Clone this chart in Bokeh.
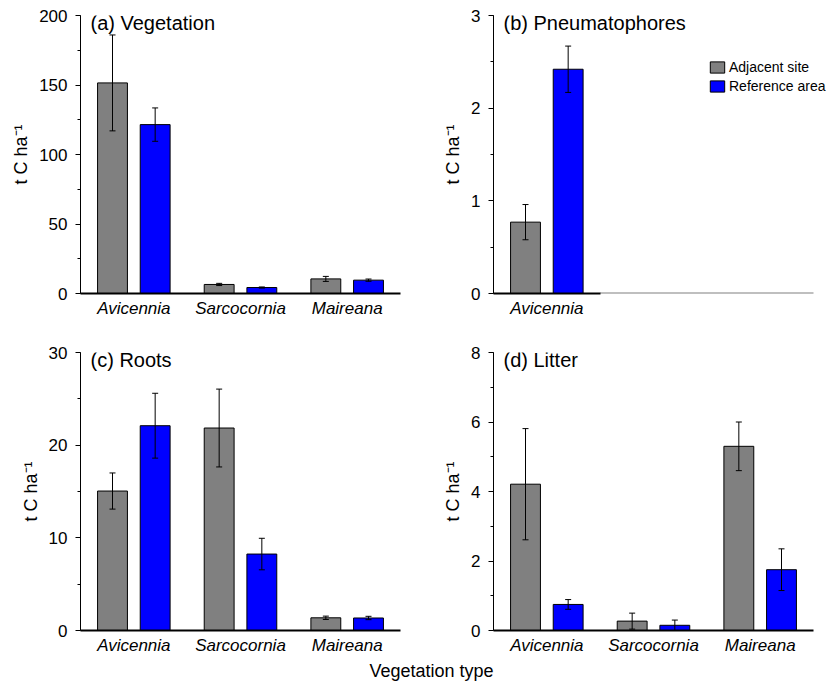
from bokeh.plotting import figure
from bokeh.models import (Range1d, FixedTicker, SingleIntervalTicker, ColumnDataSource,
                          Whisker, TeeHead, Label, Legend, LegendItem)
from bokeh.layouts import column, row
from bokeh.embed import file_html
from bokeh.resources import INLINE

# ---------------- data ----------------
categories = ["Avicennia", "Sarcocornia", "Maireana"]
pneu_categories = ["Avicennia"]
series = ["Adjacent site", "Reference area"]

veg_adj = [151.5, 6.5, 10.5]
veg_adj_err = [34.5, 0.8, 1.8]
veg_ref = [121.5, 4.3, 9.6]
veg_ref_err = [12.0, 0.4, 0.8]

pneu_adj = [0.77]
pneu_adj_err = [0.19]
pneu_ref = [2.42]
pneu_ref_err = [0.25]

roots_adj = [15.05, 21.85, 1.37]
roots_adj_err = [1.95, 4.2, 0.18]
roots_ref = [22.1, 8.25, 1.35]
roots_ref_err = [3.5, 1.7, 0.18]

litter_adj = [4.21, 0.27, 5.3]
litter_adj_err = [1.6, 0.23, 0.7]
litter_ref = [0.75, 0.15, 1.75]
litter_ref_err = [0.14, 0.15, 0.6]

titles = ["(a) Vegetation", "(b) Pneumatophores", "(c) Roots", "(d) Litter"]
y_label = "t C ha\u207b\u00b9"
x_title = "Vegetation type"

# ---------------- style ----------------
FONT = "Liberation Sans"
GRAY = "#808080"
BLUE = "#0000FF"
FW, FH = 320, 278
N_SLOTS = 3  # category slots per panel axis


def panel(title, cats, adj, adj_err, ref, ref_err, ymax, step,
          left, right, top, bottom, title_dy, extra_px=0):
    unit = FW / N_SLOTS
    p = figure(width=left + FW + extra_px + right, height=top + FH + bottom,
               x_range=Range1d(-0.5, N_SLOTS - 0.5 + extra_px / unit),
               y_range=Range1d(0, ymax),
               output_backend="svg", toolbar_location=None,
               min_border_left=left, min_border_right=right,
               min_border_top=top, min_border_bottom=bottom)
    p.outline_line_color = None
    p.grid.visible = False
    p.background_fill_color = "white"
    p.border_fill_color = "white"

    xs = list(range(len(cats)))
    x_adj = [x - 0.2 for x in xs]
    x_ref = [x + 0.2 for x in xs]
    r1 = p.vbar(x=x_adj, top=adj, width=0.28, fill_color=GRAY,
                line_color="black", line_width=1)
    r2 = p.vbar(x=x_ref, top=ref, width=0.28, fill_color=BLUE,
                line_color="black", line_width=1)
    for xv, v, e in ((x_adj, adj, adj_err), (x_ref, ref, ref_err)):
        src = ColumnDataSource(dict(x=xv,
                                    upper=[a + b for a, b in zip(v, e)],
                                    lower=[a - b for a, b in zip(v, e)]))
        w = Whisker(base="x", upper="upper", lower="lower", source=src,
                    level="overlay", line_color="black", line_width=1,
                    upper_head=TeeHead(size=6, line_color="black", line_width=1),
                    lower_head=TeeHead(size=6, line_color="black", line_width=1))
        p.add_layout(w)

    xa = p.xaxis[0]
    xa.ticker = FixedTicker(ticks=xs)
    xa.major_label_overrides = {i: c for i, c in enumerate(cats)}
    xa.major_tick_line_color = None
    xa.minor_tick_line_color = None
    xa.major_tick_out = 0
    xa.major_tick_in = 0
    xa.axis_line_width = 2
    xa.axis_line_color = "black"
    xa.bounds = (-0.5, N_SLOTS - 0.5)
    xa.major_label_text_font = FONT
    xa.major_label_text_font_size = "17px"
    xa.major_label_text_font_style = "italic"
    xa.major_label_text_color = "black"
    xa.major_label_standoff = 5

    ya = p.yaxis[0]
    ya.ticker = SingleIntervalTicker(interval=step, num_minor_ticks=2)
    ya.major_tick_out = 5
    ya.major_tick_in = 0
    ya.minor_tick_out = 3
    ya.minor_tick_in = 0
    ya.axis_line_width = 1
    ya.axis_line_color = "black"
    ya.major_tick_line_color = "black"
    ya.minor_tick_line_color = "black"
    ya.major_label_text_font = FONT
    ya.major_label_text_font_size = "17px"
    ya.major_label_text_color = "black"
    ya.major_label_standoff = 8
    ya.axis_label = y_label
    ya.axis_label_text_font = FONT
    ya.axis_label_text_font_size = "18px"
    ya.axis_label_text_font_style = "normal"
    ya.axis_label_text_color = "black"
    ya.axis_label_standoff = 5

    p.add_layout(Label(x=-0.5 + 10 / unit, y=ymax * (1 - title_dy / FH),
                       text=title, text_font=FONT, text_font_size="20px",
                       text_color="black", text_baseline="alphabetic"))
    return p, r1, r2


pa, _, _ = panel(titles[0], categories, veg_adj, veg_adj_err, veg_ref, veg_ref_err,
                 200, 50, 80, 36, 15, 37, 7.5)
pb, rb1, rb2 = panel(titles[1], pneu_categories, pneu_adj, pneu_adj_err, pneu_ref,
                     pneu_ref_err, 3, 1, 57, 0, 15, 37, 7.5, extra_px=13)
pc, _, _ = panel(titles[2], categories, roots_adj, roots_adj_err, roots_ref,
                 roots_ref_err, 30, 10, 80, 36, 22, 27, 7.5)
pd, _, _ = panel(titles[3], categories, litter_adj, litter_adj_err, litter_ref,
                 litter_ref_err, 8, 2, 57, 13, 22, 27, 7.5)

# panel (b): black base only under the Avicennia group, thin grey axis beyond
pb.xaxis[0].bounds = (-0.5, len(pneu_categories) - 0.5)
pb.segment(x0=[len(pneu_categories) - 0.5], y0=[0], x1=[N_SLOTS - 0.5], y1=[0],
           line_color=GRAY, line_width=2)

legend = Legend(items=[LegendItem(label=series[0], renderers=[rb1]),
                       LegendItem(label=series[1], renderers=[rb2])],
                location=(215, 199), orientation="vertical",
                glyph_width=18, glyph_height=14, label_height=14,
                label_standoff=3, spacing=3, padding=0, margin=0,
                border_line_color=None, background_fill_alpha=0,
                label_text_font=FONT, label_text_font_size="14px",
                label_text_color="black")
pb.add_layout(legend)

pe = figure(width=826, height=26, x_range=Range1d(0, 826), y_range=Range1d(0, 26),
            output_backend="svg", toolbar_location=None, min_border=0,
            x_axis_location=None, y_axis_location=None)
pe.outline_line_color = None
pe.grid.visible = False
pe.add_layout(Label(x=431, y=13, text=x_title, text_font=FONT, text_font_size="18px",
                    text_color="black", text_align="center", text_baseline="alphabetic"))

layout = column(row(pa, pb), row(pc, pd), pe)
open("out.html", "w").write(file_html(layout, INLINE))
